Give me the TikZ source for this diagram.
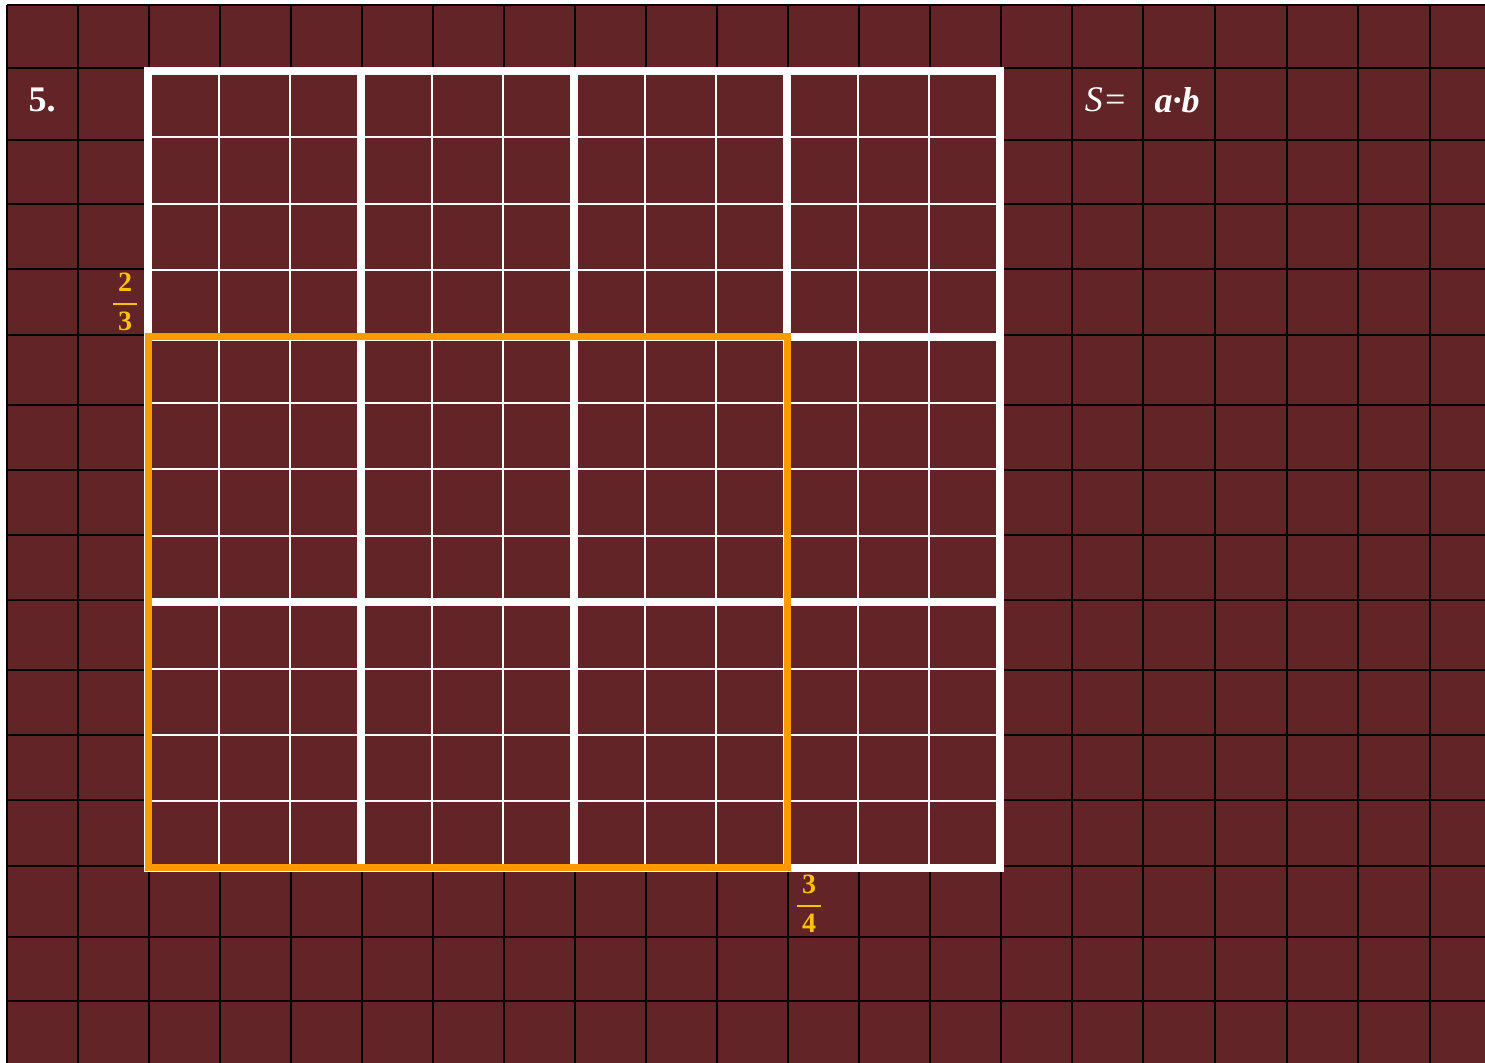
\documentclass[tikz,border=0pt]{standalone}
\usepackage{amsmath}
\usepackage{fontspec}
\setmainfont{Liberation Serif}
\usepackage{xcolor}
\usepackage{tikz}

\definecolor{board}{RGB}{98,36,38}
\definecolor{rectorange}{RGB}{255,153,0}
\definecolor{fracgold}{RGB}{255,192,0}

\begin{document}
\begin{tikzpicture}[x=0.5pt,y=-0.5pt]
  \useasboundingbox (0,0) rectangle (1485,1063);
  % Board background
  \fill[board] (7,5) rectangle (1485,1063);
  % Black squared paper
  \foreach \x in {7,78,149,220,291,362,433,504,575,646,717,788,859,930,1001,1072,1143,1215,1287,1358,1430}{
    \draw[black, line width=1pt] (\x,5) -- (\x,1063);
  }
  \foreach \y in {5,68,140,204,269,335,405,470,535,600,670,735,800,866,937,1001}{
    \draw[black, line width=1pt] (7,\y) -- (1485,\y);
  }
  % Unit square: 12 x 12 cells
  \def\xo{148}
  \def\yo{71}
  \def\dx{71}
  \def\dy{66.4}
  \fill[board] (\xo,\yo) rectangle ({\xo+12*\dx},{\yo+12*\dy});
  \foreach \i in {1,...,11}{
    \draw[white, line width=1pt] ({\xo+\i*\dx},\yo) -- ({\xo+\i*\dx},{\yo+12*\dy});
    \draw[white, line width=1pt] (\xo,{\yo+\i*\dy}) -- ({\xo+12*\dx},{\yo+\i*\dy});
  }
  % Thick lines: thirds across, quarters down
  \foreach \i in {3,6,9}{
    \draw[white, line width=4pt] ({\xo+\i*\dx},\yo) -- ({\xo+\i*\dx},{\yo+12*\dy});
  }
  \foreach \i in {4,8}{
    \draw[white, line width=4pt] (\xo,{\yo+\i*\dy}) -- ({\xo+12*\dx},{\yo+\i*\dy});
  }
  \draw[white, line width=4pt] (\xo,\yo) rectangle ({\xo+12*\dx},{\yo+12*\dy});
  % Product 3/4 times 2/3
  \draw[rectorange, line width=3.5pt] (\xo,{\yo+4*\dy}) rectangle ({\xo+9*\dx},{\yo+12*\dy});

  % Labels
  \node[white, font=\fontsize{18}{20}\selectfont\bfseries] (num) at (42,100) {5.};
  \node[fracgold, font=\fontsize{14}{16}\selectfont] (twothirds) at (125,302)
    {$\genfrac{}{}{0.9pt}{0}{\,\textbf{2}\,}{\,\textbf{3}\,}$};
  \node[fracgold, font=\fontsize{14}{16}\selectfont] (threequarters) at (809,904)
    {$\genfrac{}{}{0.9pt}{0}{\,\textbf{3}\,}{\,\textbf{4}\,}$};
  \node[white, font=\fontsize{18}{20}\selectfont\itshape] (area) at (1106,100) {S=};
  \node[white, font=\fontsize{18}{20}\selectfont\itshape\bfseries] (formula) at (1177,100) {a·b};
\end{tikzpicture}
\end{document}
